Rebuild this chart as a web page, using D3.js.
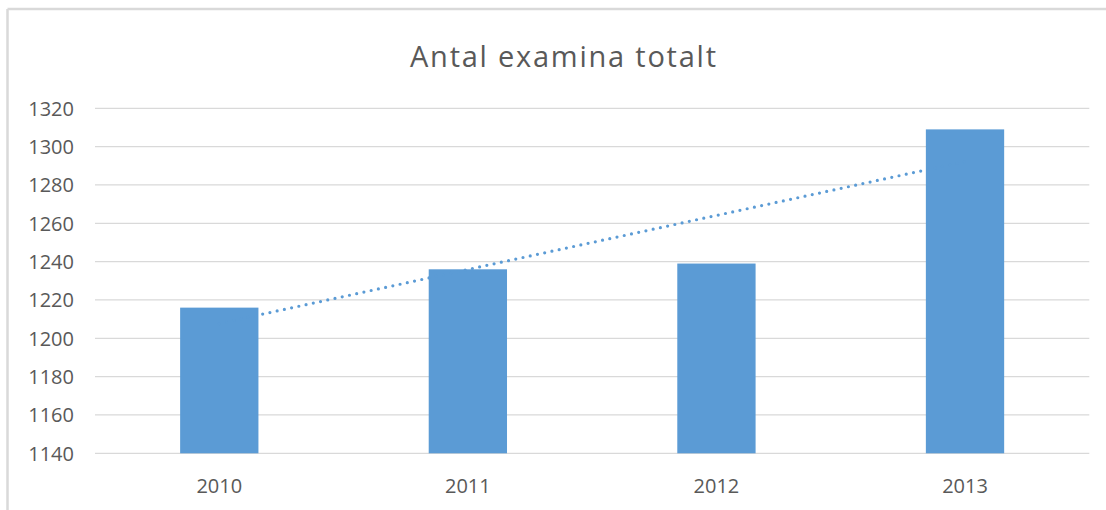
<!DOCTYPE html>
<html>
<head>
<meta charset="utf-8">
<script src="https://cdn.jsdelivr.net/npm/d3@7"></script>
<style>
  html, body { margin: 0; padding: 0; background: #fff; }
  svg { display: block; }
</style>
</head>
<body>
<svg id="chart" width="1106" height="510"></svg>
<script>
const title = "Antal examina totalt";
const categories = ["2010", "2011", "2012", "2013"];
const values = [1216, 1236, 1239, 1309];
const yTicks = [1140, 1160, 1180, 1200, 1220, 1240, 1260, 1280, 1300, 1320];

const W = 1106, H = 510;
const svg = d3.select("#chart");
const font = "'Open Sans', 'Noto Sans', sans-serif";

// chart border (top and left visible)
svg.append("line").attr("x1", 7.5).attr("x2", W).attr("y1", 9).attr("y2", 9)
  .attr("stroke", "#d9d9d9").attr("stroke-width", 2.5);
svg.append("line").attr("x1", 7.5).attr("x2", 7.5).attr("y1", 9).attr("y2", H)
  .attr("stroke", "#d9d9d9").attr("stroke-width", 2.5);

const plot = { left: 95, right: 1089.3, top: 108.3, bottom: 453.3 };

const x = d3.scaleBand().domain(categories)
  .range([plot.left, plot.right])
  .paddingInner(0.685).paddingOuter(0.3425);
const y = d3.scaleLinear().domain([1140, 1320]).range([plot.bottom, plot.top]);

// gridlines
svg.append("g").selectAll("line").data(yTicks).join("line")
  .attr("x1", plot.left).attr("x2", plot.right)
  .attr("y1", d => y(d)).attr("y2", d => y(d))
  .attr("stroke", "#d9d9d9").attr("stroke-width", 1.3);

// y axis labels
const yAxis = d3.axisLeft(y).tickValues(yTicks).tickFormat(d3.format("d")).tickSize(0).tickPadding(0);
const gy = svg.append("g").attr("transform", `translate(${plot.left - 21},0)`).call(yAxis);
gy.select(".domain").remove();
gy.selectAll("text").attr("font-family", font).attr("font-size", 20)
  .attr("fill", "#595959").attr("dy", "0.35em");

// x axis labels
const xAxis = d3.axisBottom(x).tickSize(0).tickPadding(0);
const gx = svg.append("g").attr("transform", `translate(0,${plot.bottom})`).call(xAxis);
gx.select(".domain").remove();
gx.selectAll("text").attr("font-family", font).attr("font-size", 20)
  .attr("fill", "#595959").attr("dy", null).attr("y", 40);

// bars
svg.append("g").selectAll("rect").data(values).join("rect")
  .attr("x", (d, i) => x(categories[i]))
  .attr("width", x.bandwidth())
  .attr("y", d => y(d))
  .attr("height", d => y(1140) - y(d))
  .attr("fill", "#5b9bd5");

// linear trendline (least squares)
const n = values.length;
const xs = d3.range(n);
const mx = d3.mean(xs), my = d3.mean(values);
const slope = d3.sum(xs, i => (i - mx) * (values[i] - my)) / d3.sum(xs, i => (i - mx) ** 2);
const icpt = my - slope * mx;
const cx = i => x(categories[i]) + x.bandwidth() / 2;
svg.append("line")
  .attr("x1", cx(0)).attr("y1", y(icpt))
  .attr("x2", cx(n - 1)).attr("y2", y(icpt + slope * (n - 1)))
  .attr("stroke", "#5b9bd5").attr("stroke-width", 3.2)
  .attr("stroke-linecap", "round").attr("stroke-dasharray", "0 7.4");

// title
svg.append("text").attr("x", 563).attr("y", 67).attr("text-anchor", "middle")
  .attr("font-family", font).attr("font-size", 29).attr("font-weight", 400)
  .attr("textLength", 306).attr("lengthAdjust", "spacing")
  .attr("fill", "#595959").text(title);
</script>
</body>
</html>
